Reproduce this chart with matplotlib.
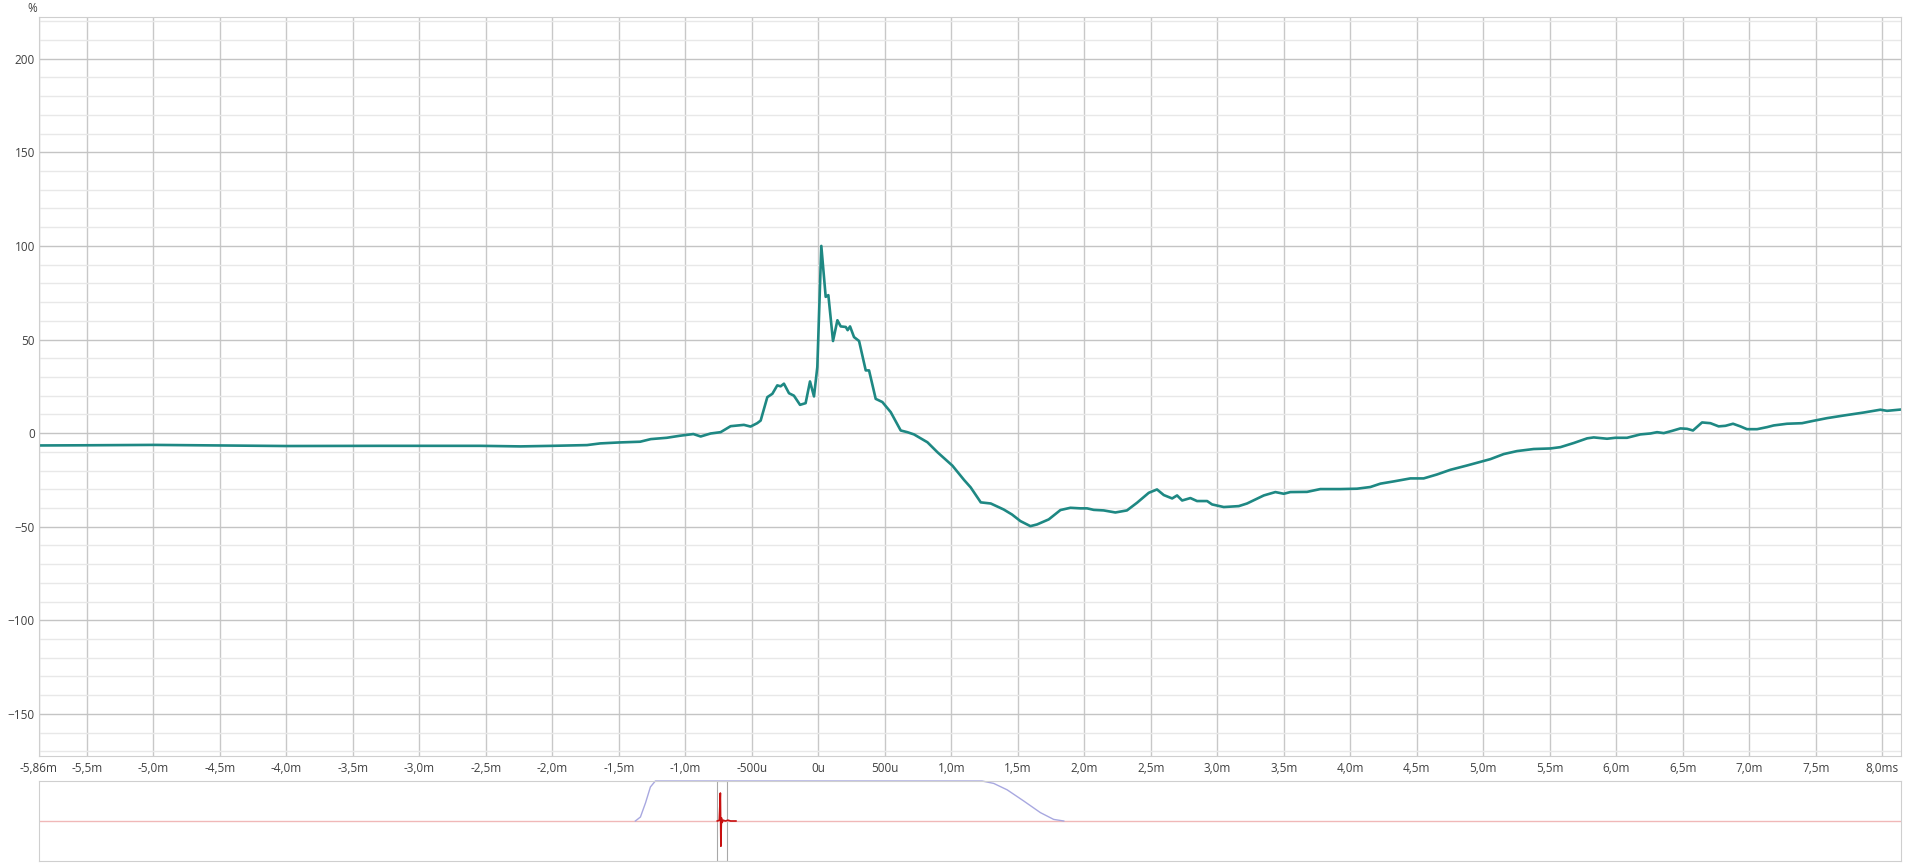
import matplotlib.pyplot as plt

plt.rcParams['font.family'] = ['Open Sans', 'DejaVu Sans']

# main curve: time in ms, value in %
t_ms = [-5.86, -5.5, -5.0, -4.5, -4.0, -3.5, -3.29, -3.0, -2.54, -2.24, -2.0, -1.74, -1.64,
        -1.5, -1.34, -1.26, -1.14, -1.04, -0.94, -0.885, -0.81, -0.735, -0.66, -0.56, -0.51,
        -0.46, -0.434, -0.384, -0.346, -0.309, -0.284, -0.259, -0.221, -0.184, -0.138, -0.096,
        -0.063, -0.033, -0.008, 0.022, 0.055, 0.075, 0.11, 0.143, 0.168, 0.206, 0.22, 0.238,
        0.268, 0.306, 0.356, 0.381, 0.431, 0.481, 0.544, 0.619, 0.669, 0.719, 0.82, 0.895,
        1.008, 1.095, 1.145, 1.221, 1.296, 1.393, 1.456, 1.519, 1.594, 1.644, 1.732, 1.82,
        1.895, 1.97, 2.02, 2.07, 2.145, 2.233, 2.32, 2.396, 2.484, 2.546, 2.597, 2.66, 2.697,
        2.735, 2.797, 2.847, 2.923, 2.96, 3.048, 3.161, 3.223, 3.349, 3.436, 3.499, 3.549,
        3.674, 3.774, 3.925, 4.05, 4.15, 4.226, 4.326, 4.451, 4.551, 4.651, 4.752, 4.877,
        5.053, 5.153, 5.253, 5.378, 5.504, 5.579, 5.679, 5.78, 5.83, 5.93, 5.992, 6.08, 6.18,
        6.256, 6.306, 6.356, 6.419, 6.481, 6.531, 6.576, 6.644, 6.707, 6.769, 6.82, 6.877,
        6.932, 6.982, 7.058, 7.133, 7.183, 7.283, 7.396, 7.484, 7.584, 7.709, 7.86, 7.985,
        8.035, 8.14]
pct = [-6.6, -6.5, -6.3, -6.6, -6.9, -6.8, -6.8, -6.8, -6.8, -7.1, -6.8, -6.4, -5.5,
       -5.0, -4.6, -3.2, -2.5, -1.4, -0.5, -1.8, -0.2, 0.5, 3.7, 4.4, 3.5,
       5.3, 6.7, 19.2, 21.0, 25.5, 25.0, 26.4, 21.3, 20.0, 15.1, 16.0,
       27.6, 19.6, 35.3, 100.0, 72.8, 73.7, 49.2, 60.3, 57.0, 56.7, 55.0, 57.0,
       51.3, 49.2, 33.5, 33.5, 18.3, 16.6, 11.2, 1.4, 0.5, -0.7, -4.9, -10.2,
       -17.4, -25.0, -29.0, -37.0, -37.6, -40.8, -43.5, -47.0, -49.7, -48.8, -46.1, -41.1,
       -39.9, -40.2, -40.2, -41.0, -41.3, -42.4, -41.3, -37.2, -31.9, -30.1, -33.1, -34.9, -33.3,
       -36.0, -34.7, -36.3, -36.3, -38.1, -39.5, -39.0, -37.6, -33.3, -31.5, -32.4, -31.5,
       -31.4, -29.9, -29.9, -29.7, -28.8, -27.0, -25.8, -24.2, -24.2, -22.1, -19.6, -17.3,
       -13.9, -11.2, -9.6, -8.5, -8.2, -7.5, -5.3, -2.8, -2.3, -3.0, -2.5, -2.5, -0.7,
       -0.2, 0.5, 0.0, 1.2, 2.5, 2.3, 1.4, 5.7, 5.3, 3.6, 3.9, 5.0,
       3.6, 2.1, 2.1, 3.2, 4.1, 5.0, 5.3, 6.6, 8.0, 9.4, 11.0, 12.5,
       11.9, 12.6]

x_ticks = [-5.86, -5.5, -5.0, -4.5, -4.0, -3.5, -3.0, -2.5, -2.0, -1.5, -1.0, -0.5, 0.0,
           0.5, 1.0, 1.5, 2.0, 2.5, 3.0, 3.5, 4.0, 4.5, 5.0, 5.5, 6.0, 6.5, 7.0, 7.5, 8.0]
x_labels = ['-5,86m', '-5,5m', '-5,0m', '-4,5m', '-4,0m', '-3,5m', '-3,0m', '-2,5m', '-2,0m',
            '-1,5m', '-1,0m', '-500u', '0u', '500u', '1,0m', '1,5m', '2,0m', '2,5m', '3,0m',
            '3,5m', '4,0m', '4,5m', '5,0m', '5,5m', '6,0m', '6,5m', '7,0m', '7,5m', '8,0ms']
y_ticks = [-150, -100, -50, 0, 50, 100, 150, 200]

# overview strip: window shape and impulse
win_t = [-1.376, -1.338, -1.3, -1.263, -1.226, 1.231, 1.318, 1.419, 1.544, 1.669, 1.769, 1.845]
win_v = [0.0, 0.1, 0.45, 0.85, 1.0, 1.0, 0.94, 0.78, 0.5, 0.21, 0.04, 0.0]
imp_t = [-0.76, -0.745, -0.737, -0.733, -0.729, -0.725, -0.715, -0.70, -0.68, -0.66, -0.62]
imp_v = [0.0, 0.02, 0.7, -0.63, 0.08, -0.04, 0.02, 0.0, 0.02, 0.0, 0.0]

W, H = 1920, 865
fig = plt.figure(figsize=(W / 100, H / 100), dpi=100)
ax = fig.add_axes([39 / W, 109 / H, 1862 / W, 739 / H])

ax.set_xlim(-5.86, 8.14)
ax.set_ylim(-172.5, 222.3)
ax.set_xticks(x_ticks)
ax.set_xticklabels(x_labels)
ax.set_yticks(y_ticks)
ax.set_yticks(range(-170, 221, 10), minor=True)
ax.grid(axis='y', which='minor', color='#e8e8e8', lw=1.0)
ax.grid(axis='y', which='major', color='#c4c4c4', lw=1.0)
ax.grid(axis='x', which='major', color='#c8c8c8', lw=1.0)
ax.set_axisbelow(True)
ax.tick_params(which='both', length=0, labelsize=8.5, labelcolor='#404040', pad=4)
ax.tick_params(axis='y', pad=3)
for s in ax.spines.values():
    s.set_color('#cfcfcf')

ax.plot(t_ms, pct, color='#1e8883', lw=1.9, solid_joinstyle='round')
fig.text(32 / W, 1 - 8 / H, '%', fontsize=8.5, color='#404040', ha='center', va='center')

ax2 = fig.add_axes([39 / W, 4 / H, 1862 / W, 80 / H])
ax2.set_xlim(-5.86, 8.14)
ax2.set_ylim(-1, 1)
ax2.set_xticks([])
ax2.set_yticks([])
for s in ax2.spines.values():
    s.set_color('#cfcfcf')
ax2.axhline(0, color='#f0b8b8', lw=1.0)
ax2.plot(win_t, win_v, color='#a8a8e0', lw=1.0, clip_on=False)
ax2.axvspan(-0.761, -0.689, facecolor='none', edgecolor='#a8a8a8', lw=0.8)
ax2.plot(imp_t, imp_v, color='#c81010', lw=1.2)

fig.savefig('out.png', dpi=100)
